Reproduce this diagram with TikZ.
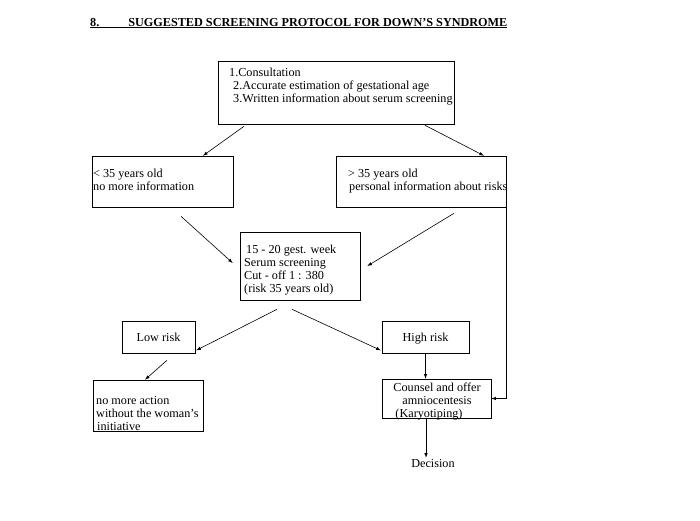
\documentclass[tikz,border=0pt]{standalone}
\usepackage{fontspec}
\setmainfont{Liberation Serif}
\begin{document}
\begin{tikzpicture}[x=1pt,y=-1pt,font=\fontsize{12.2}{13}\selectfont]
				\tikzset{n/.style={draw=black, line width=0.6pt, rectangle, inner sep=0pt, text height=9pt, text depth=1pt},
				t/.style={anchor=north west, align=left, inner sep=0pt},
				f/.style={->,>=latex, line width=0.6pt}};
				\useasboundingbox (0,0) rectangle (700,520);
				\node[anchor=base west, inner sep=0pt] (title) at (90,26) {\bfseries\underline{8.\hspace*{29pt}SUGGESTED SCREENING PROTOCOL FOR DOWN'S SYNDROME}};

				\node[n, minimum width=236pt, minimum height=63pt] (top) at (336,92.5) {};
				\node[t] (topt) at (229,67.5) {1.Consultation\\\hspace*{4pt}2.Accurate estimation of gestational age\\\hspace*{4pt}3.Written information about serum screening};
				\node[n, minimum width=141pt, minimum height=51pt] (lt) at (162.5,181.5) {};
				\node[t] (ltt) at (93,168.5) {< 35 years old\\no more information};
				\node[n, minimum width=170pt, minimum height=51pt] (rt) at (421,181.5) {};
				\node[t] (rtt) at (348,168.5) {> 35 years old\\\hspace*{1pt}personal information about risks};
				\node[n, minimum width=120pt, minimum height=68pt] (mid) at (300,266) {};
				\node[t] (midt) at (244,244.5) {\hspace*{2pt}15 - 20 gest. week\\Serum screening\\Cut - off 1 : 380\\(risk 35 years old)};
				\node[n, minimum width=73pt, minimum height=32pt] (low) at (158.5,337) {Low risk};
				\node[n, minimum width=87pt, minimum height=32pt] (high) at (425.5,337) {High risk};
				\node[n, minimum width=110pt, minimum height=51pt] (nma) at (148,405.5) {};
				\node[t] (nmat) at (96,396.5) {no more action\\without the woman’s\\\hspace*{1pt}initiative};
				\node[n, minimum width=109pt, minimum height=39pt] (cns) at (436.5,398.5) {};
				\node[anchor=north, align=center, inner sep=0pt] (cnst) at (437,382.5) {Counsel and offer\\amniocentesis\\(Karyotiping)\hspace*{16pt}};
				\node[anchor=base, inner sep=1pt] (dec) at (433,467) {Decision};

				\draw[f] ([xshift=-92pt,yshift=-2pt]top.south) to ([xshift=40.5pt]lt.north);
				\draw[f] ([xshift=89pt,yshift=-1pt]top.south) to ([xshift=63pt]rt.north);
				\draw[f] ([xshift=18.5pt,yshift=-9pt]lt.south) to ([xshift=-7pt,yshift=3pt]mid.west);
				\draw[f] ([xshift=33pt,yshift=-6pt]rt.south) to ([xshift=7pt]mid.east);
				\draw[f] ([xshift=-23pt,yshift=-9pt]mid.south) to ([xshift=1pt,yshift=3pt]low.south east);
				\draw[f] ([xshift=-8pt,yshift=-9pt]mid.south) to ([xshift=-1pt,yshift=3pt]high.south west);
				\draw[f] ([xshift=8.5pt,yshift=-7pt]low.south) to ([xshift=-3pt]nma.north);
				\draw[f] (high.south) to (high.south |- cns.north);
				\draw[f] ([xshift=-10.5pt]cns.south) to ([xshift=-10.5pt]cns.south |- dec.north);
				\draw[f] (rt.south east) |- (cns.east);
			\end{tikzpicture}
\end{document}
